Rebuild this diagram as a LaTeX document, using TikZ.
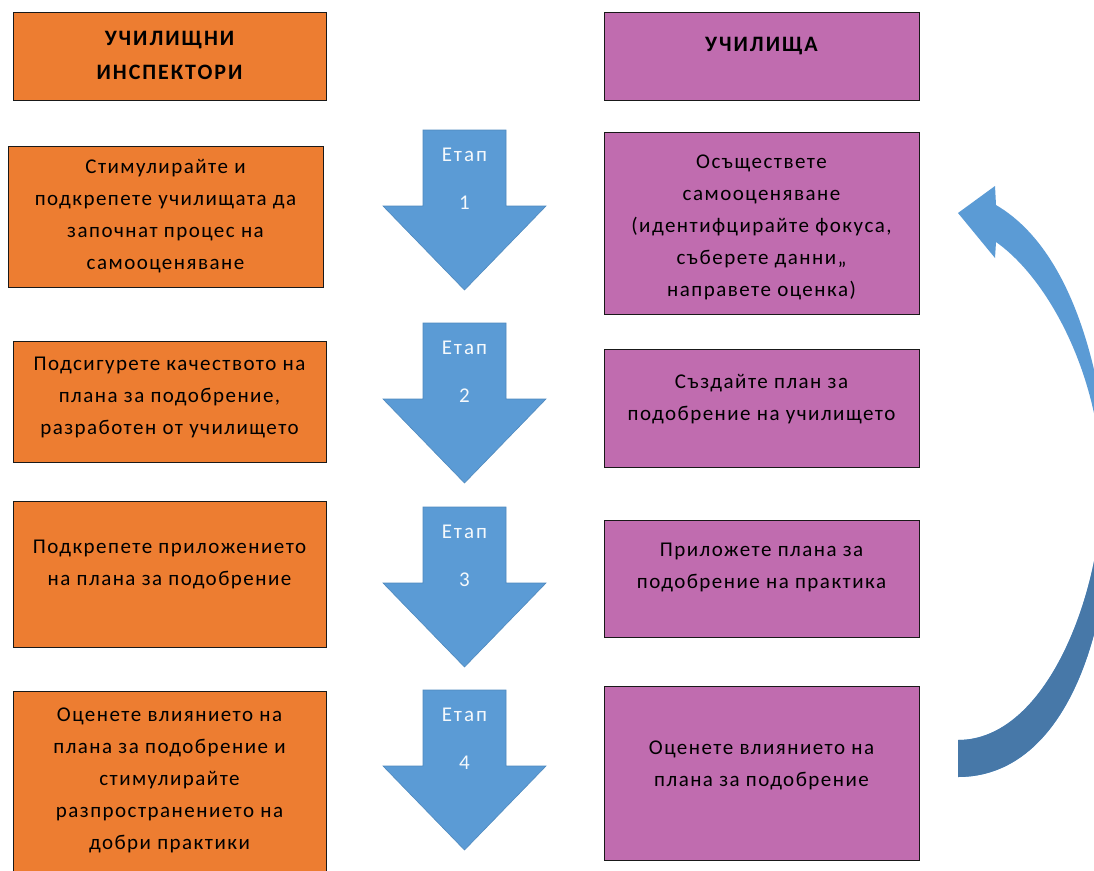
\documentclass[tikz,border=0pt]{standalone}
\usepackage{fontspec}
\setmainfont{Carlito}
\definecolor{orangeC}{HTML}{ED7D31}
\definecolor{purpleC}{HTML}{C06CAF}
\definecolor{blueC}{HTML}{5B9BD5}
\definecolor{blueD}{HTML}{4F89BE}
\definecolor{blueDark}{HTML}{4778A8}
\begin{document}
\begin{tikzpicture}[x=1pt,y=-1pt,
  obox/.style={draw=black!90, line width=1pt, fill=orangeC, inner sep=0pt},
  pbox/.style={draw=black!90, line width=1pt, fill=purpleC, inner sep=0pt},
  txt/.style={align=center, font=\fontsize{21}{32}\selectfont\addfontfeature{LetterSpace=7}, inner sep=0pt, text=black},
  htxt/.style={align=center, font=\bfseries\fontsize{22}{34}\selectfont\addfontfeature{LetterSpace=9}, inner sep=0pt, text=black},
  etap/.style={text=white!94!blueC, font=\fontsize{21}{22}\selectfont\addfontfeature{LetterSpace=10}, inner sep=0pt},
  stagearrow/.pic={
    \filldraw[fill=blueC, draw=blueD, line width=0.6pt]
      (-41.5,0) -- (41.5,0) -- (41.5,76) -- (81.5,76) -- (0,160)
      -- (-81.5,76) -- (-41.5,76) -- cycle;
    \node[etap] (-lbl) at (0,25) {Етап};
    \node[etap] (-num) at (0,73) {#1};
  }
]
\useasboundingbox (0,0) rectangle (1094,870);
\clip (0,0) rectangle (1094,870);
\fill[white] (0,0) rectangle (1094,870);

% headers
\node[obox, minimum width=313pt, minimum height=88pt] (hl) at (169.5,56) {};
\node[htxt] (hlt) at (169.5,55) {УЧИЛИЩНИ\\ИНСПЕКТОРИ};
\node[pbox, minimum width=315pt, minimum height=88pt] (hr) at (761.5,56) {};
\node[htxt] (hrt) at (761.5,46) {УЧИЛИЩА};

% left column
\node[obox, minimum width=315pt, minimum height=141pt] (l1) at (165.5,216.5) {};
\node[txt] (l1t) at (165.5,216) {Стимулирайте и\\подкрепете училищата да\\започнат процес на\\самооценяване};
\node[obox, minimum width=313pt, minimum height=121pt] (l2) at (169.5,401.5) {};
\node[txt] (l2t) at (169.5,397) {Подсигурете качеството на\\плана за подобрение,\\разработен от училището};
\node[obox, minimum width=313pt, minimum height=146pt] (l3) at (169.5,574) {};
\node[txt] (l3t) at (169.5,564.5) {Подкрепете приложението\\на плана за подобрение};
\node[obox, minimum width=313pt, minimum height=194pt] (l4) at (169.5,788) {};
\node[txt] (l4t) at (169.5,780.5) {Оценете влиянието на\\плана за подобрение и\\стимулирайте\\разпространението на\\добри практики};

% right column
\node[pbox, minimum width=315pt, minimum height=182pt] (r1) at (761.5,223) {};
\node[txt] (r1t) at (761.5,227.5) {Осъществете\\самооценяване\\(идентифцирайте фокуса,\\съберете данни,,\\направете оценка)};
\node[pbox, minimum width=315pt, minimum height=118pt] (r2) at (761.5,408) {};
\node[txt] (r2t) at (761.5,399) {Създайте план за\\подобрение на училището};
\node[pbox, minimum width=315pt, minimum height=117pt] (r3) at (761.5,578.5) {};
\node[txt] (r3t) at (761.5,567.5) {Приложете плана за\\подобрение на практика};
\node[pbox, minimum width=315pt, minimum height=174pt] (r4) at (761.5,773) {};
\node[txt] (r4t) at (761.5,765.5) {Оценете влиянието на\\плана за подобрение};

% stage arrows
\pic (a1) at (464.5,130) {stagearrow=1};
\pic (a2) at (464.5,323) {stagearrow=2};
\pic (a3) at (464.5,507) {stagearrow=3};
\pic (a4) at (464.5,690) {stagearrow=4};

% curved return arrow
\fill[blueC]
  (958,777) .. controls (1062,777) and (1110,640) .. (1110,505)
  .. controls (1110,430) and (1090,260) .. (996,205)
  -- (995,186) -- (958,213) -- (995,258) -- (996,242)
  .. controls (1050,280) and (1102,380) .. (1102,487)
  .. controls (1102,590) and (1048,740) .. (958,740) -- cycle;
\fill[blueDark]
  (958,777) .. controls (1062,777) and (1110,640) .. (1110,505)
  -- (1102,487)
  .. controls (1102,590) and (1048,740) .. (958,740) -- cycle;
\end{tikzpicture}
\end{document}
